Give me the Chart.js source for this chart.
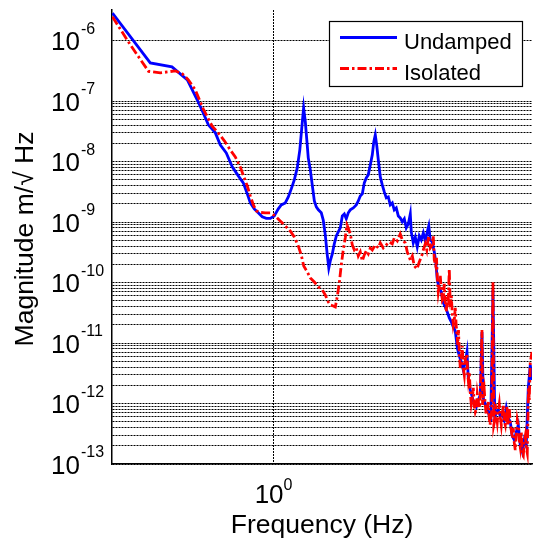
<!DOCTYPE html>
<html>
<head>
<meta charset="utf-8">
<script src="https://cdn.jsdelivr.net/npm/chart.js@4.4.0/dist/chart.umd.min.js"></script>
<style>
  html, body { margin: 0; padding: 0; background: #fff; }
  #plot { display: block; }
</style>
</head>
<body>
<canvas id="plot" width="534" height="541"></canvas>
<script>
const FONT = '"Liberation Sans", Arial, Helvetica, sans-serif';

// Frequency (Hz) and amplitude spectral density (m/sqrt(Hz)) of both configurations
const undampedFreq = [0.301, 0.399, 0.469, 0.526, 0.566, 0.592, 0.615, 0.648, 0.672, 0.703,
  0.735, 0.769, 0.798, 0.822, 0.841, 0.866, 0.892, 0.919, 0.947, 0.976,
  1.005, 1.036, 1.059, 1.091, 1.116, 1.141, 1.167, 1.193, 1.216, 1.234,
  1.251, 1.267, 1.281, 1.295, 1.315, 1.334, 1.355, 1.375, 1.396, 1.427,
  1.448, 1.470, 1.492, 1.509, 1.526, 1.549, 1.572, 1.596, 1.620, 1.644,
  1.669, 1.694, 1.719, 1.745, 1.771, 1.811, 1.852, 1.880, 1.908, 1.937,
  1.966, 1.995, 2.025, 2.056, 2.087, 2.110, 2.134, 2.158, 2.182, 2.215,
  2.248, 2.282, 2.316, 2.351, 2.386, 2.422, 2.458, 2.495, 2.533, 2.570,
  2.609, 2.649, 2.688, 2.729, 2.770, 2.790, 2.832, 2.875, 2.917, 2.962,
  3.006, 3.052, 3.097, 3.143, 3.179, 3.214, 3.263, 3.312, 3.349, 3.387,
  3.437, 3.489, 3.542, 3.595, 3.649, 3.704, 3.760, 3.816, 3.873, 3.932,
  3.990, 4.050, 4.111, 4.173, 4.226, 4.267, 4.332, 4.395, 4.462, 4.529,
  4.597, 4.666, 4.725, 4.771, 4.843, 4.916, 4.990, 5.046, 5.129, 5.199,
  5.257, 5.336, 5.416, 5.497, 5.580, 5.664, 5.748, 5.835, 5.923, 6.012,
  6.101, 6.193, 6.286, 6.381, 6.476, 6.573, 6.673, 6.772, 6.858];
const undampedMag = [2.84e-6, 4.28e-7, 3.67e-7, 2.24e-7, 1.05e-7, 6.38e-8, 4.04e-8, 2.98e-8, 1.89e-8, 1.39e-8,
  8.16e-9, 5.79e-9, 4.44e-9, 2.92e-9, 2.07e-9, 1.65e-9, 1.42e-9, 1.22e-9, 1.15e-9, 1.15e-9,
  1.26e-9, 1.65e-9, 1.92e-9, 2.07e-9, 2.60e-9, 3.53e-9, 4.97e-9, 7.85e-9, 1.56e-8, 3.60e-8,
  7.72e-8, 4.53e-8, 2.28e-8, 1.15e-8, 7.28e-9, 4.11e-9, 2.23e-9, 1.78e-9, 1.59e-9, 1.42e-9,
  1.08e-9, 6.12e-10, 2.86e-10, 1.74e-10, 2.28e-10, 2.97e-10, 4.35e-10, 5.89e-10, 6.86e-10, 7.99e-10,
  1.26e-9, 1.36e-9, 1.13e-9, 1.42e-9, 1.59e-9, 1.71e-9, 1.92e-9, 2.23e-9, 2.70e-9, 2.92e-9,
  4.44e-9, 5.37e-9, 6.02e-9, 8.80e-9, 1.29e-8, 2.11e-8, 2.76e-8, 1.82e-8, 1.07e-8, 5.57e-9,
  4.11e-9, 3.15e-9, 2.51e-9, 2.60e-9, 1.92e-9, 2.07e-9, 1.59e-9, 1.71e-9, 1.26e-9, 1.17e-9,
  1.01e-9, 1.13e-9, 7.99e-10, 9.31e-10, 1.36e-9, 6.86e-10, 4.52e-10, 5.67e-10, 3.88e-10, 5.89e-10,
  5.06e-10, 6.61e-10, 4.87e-10, 6.86e-10, 8.63e-10, 5.06e-10, 4.69e-10, 3.21e-10, 2.19e-10, 1.10e-10,
  8.14e-11, 6.99e-11, 4.60e-11, 3.95e-11, 3.26e-11, 2.60e-11, 2.23e-11, 1.84e-11, 1.58e-11, 8.28e-12,
  6.11e-12, 4.86e-12, 3.59e-12, 4.86e-12, 7.11e-12, 2.64e-12, 1.67e-12, 1.28e-12, 9.82e-13, 8.76e-13,
  1.14e-12, 1.38e-12, 1.52e-11, 1.23e-12, 9.82e-13, 8.12e-13, 6.22e-13, 5.76e-13, 7.54e-11, 5.76e-13,
  7.24e-13, 7.82e-13, 6.22e-13, 6.97e-13, 5.34e-13, 8.44e-13, 5.76e-13, 4.95e-13, 2.90e-13, 2.50e-13,
  3.38e-13, 4.42e-13, 2.06e-13, 1.58e-13, 2.50e-13, 1.99e-13, 1.81e-12, 4.34e-12, 2.45e-12];

const isolatedFreq = [0.301, 0.344, 0.394, 0.430, 0.481, 0.507, 0.530, 0.558, 0.592, 0.632,
  0.662, 0.693, 0.724, 0.752, 0.780, 0.804, 0.822, 0.841, 0.860, 0.879,
  0.906, 0.940, 0.976, 1.013, 1.051, 1.091, 1.132, 1.167, 1.202, 1.229,
  1.252, 1.286, 1.315, 1.355, 1.396, 1.438, 1.470, 1.503, 1.526, 1.560,
  1.584, 1.607, 1.632, 1.656, 1.681, 1.706, 1.728, 1.745, 1.771, 1.798,
  1.825, 1.852, 1.880, 1.908, 1.937, 1.966, 1.995, 2.025, 2.056, 2.087,
  2.134, 2.182, 2.215, 2.265, 2.316, 2.368, 2.422, 2.458, 2.514, 2.570,
  2.609, 2.668, 2.708, 2.770, 2.812, 2.853, 2.912, 2.962, 3.022, 3.052,
  3.097, 3.132, 3.174, 3.214, 3.263, 3.287, 3.312, 3.349, 3.367, 3.387,
  3.412, 3.437, 3.463, 3.489, 3.516, 3.542, 3.568, 3.595, 3.622, 3.649,
  3.677, 3.704, 3.731, 3.760, 3.787, 3.816, 3.845, 3.873, 3.903, 3.926,
  3.946, 3.967, 3.990, 4.020, 4.050, 4.080, 4.111, 4.142, 4.173, 4.226,
  4.245, 4.267, 4.299, 4.332, 4.364, 4.395, 4.429, 4.462, 4.496, 4.529,
  4.563, 4.597, 4.631, 4.666, 4.725, 4.747, 4.771, 4.807, 4.843, 4.879,
  4.916, 4.953, 4.990, 5.016, 5.046, 5.083, 5.129, 5.160, 5.199, 5.218,
  5.257, 5.296, 5.336, 5.376, 5.416, 5.457, 5.497, 5.539, 5.580, 5.621,
  5.693, 5.719, 5.748, 5.791, 5.835, 5.878, 5.923, 5.966, 6.012, 6.056,
  6.101, 6.147, 6.207, 6.239, 6.286, 6.334, 6.381, 6.429, 6.476, 6.525,
  6.573, 6.622, 6.687, 6.722, 6.772, 6.858];
const isolatedMag = [2.47e-6, 8.49e-7, 3.10e-7, 2.92e-7, 3.16e-7, 2.81e-7, 2.24e-7, 1.53e-7, 7.42e-8, 3.89e-8,
  2.98e-8, 2.20e-8, 1.56e-8, 1.19e-8, 8.16e-9, 5.37e-9, 3.96e-9, 2.70e-9, 1.92e-9, 1.53e-9,
  1.44e-9, 1.42e-9, 1.42e-9, 1.26e-9, 1.04e-9, 8.63e-10, 7.13e-10, 5.67e-10, 4.03e-10, 2.86e-10,
  1.88e-10, 1.50e-10, 1.19e-10, 1.02e-10, 8.45e-11, 7.54e-11, 6.23e-11, 4.78e-11, 4.26e-11, 4.10e-11,
  3.95e-11, 5.78e-11, 9.85e-11, 1.95e-10, 3.46e-10, 5.46e-10, 8.96e-10, 7.99e-10, 6.36e-10, 4.18e-10,
  3.46e-10, 3.73e-10, 2.75e-10, 3.21e-10, 2.28e-10, 2.86e-10, 3.33e-10, 2.97e-10, 3.73e-10, 3.46e-10,
  4.18e-10, 3.73e-10, 4.52e-10, 3.73e-10, 4.18e-10, 4.69e-10, 4.35e-10, 5.46e-10, 4.87e-10, 6.36e-10,
  5.06e-10, 4.52e-10, 3.21e-10, 2.36e-10, 2.75e-10, 1.88e-10, 1.68e-10, 2.19e-10, 2.86e-10, 3.46e-10,
  4.35e-10, 3.46e-10, 5.89e-10, 3.73e-10, 4.18e-10, 5.89e-10, 2.36e-10, 1.88e-10, 2.55e-10, 1.24e-10,
  6.99e-11, 9.12e-11, 1.29e-10, 7.83e-11, 5.15e-11, 5.56e-11, 9.48e-11, 4.60e-11, 3.26e-11, 6.00e-11,
  5.15e-11, 1.68e-10, 3.95e-11, 6.00e-11, 3.14e-11, 1.99e-11, 2.41e-11, 3.80e-11, 1.77e-11, 1.36e-11,
  9.29e-12, 1.64e-11, 7.11e-12, 3.87e-12, 5.25e-12, 8.94e-12, 3.87e-12, 2.96e-12, 5.25e-12, 6.60e-12,
  3.32e-12, 2.45e-12, 3.32e-12, 1.49e-12, 9.82e-13, 1.19e-12, 1.81e-12, 9.10e-13, 7.24e-13, 8.12e-13,
  1.44e-12, 1.10e-12, 8.44e-13, 1.28e-12, 1.64e-11, 9.46e-13, 1.28e-12, 1.67e-12, 9.46e-13, 6.46e-13,
  7.52e-13, 1.06e-12, 5.76e-13, 4.42e-13, 5.34e-13, 7.82e-13, 1.02e-10, 4.42e-13, 5.34e-13, 9.82e-13,
  6.71e-13, 4.95e-13, 7.52e-13, 9.82e-13, 5.99e-13, 4.42e-13, 6.46e-13, 9.46e-13, 5.14e-13, 4.42e-13,
  9.10e-13, 4.42e-13, 5.55e-13, 8.44e-13, 4.59e-13, 3.65e-13, 2.69e-13, 3.94e-13, 2.23e-13, 1.70e-13,
  3.13e-13, 5.34e-13, 4.09e-13, 2.50e-13, 1.91e-13, 3.38e-13, 1.46e-13, 1.36e-13, 2.31e-13, 2.90e-13,
  1.84e-13, 1.52e-13, 1.88e-12, 1.14e-12, 4.68e-12, 7.11e-12];

// axis limits and ticks (powers of ten)
const xRange = [0.3, 6.86];
const yRange = [1e-13, 3.2e-6];
const xTickExponents = [0];
const yTickExponents = [-13, -12, -11, -10, -9, -8, -7, -6];
const yMinorDecades = [-13, -12, -11, -10, -9, -8];

const seriesNames = ['Undamped', 'Isolated'];
const seriesColors = ['#0000ff', '#ff0000'];
const dashDot = [9, 3, 2.5, 3];

function toPoints(xs, ys) {
  return xs.map((x, i) => ({ x: x, y: ys[i] }));
}

// decade labels like 10^-6, drawn with a raised exponent
const decadeLabels = {
  id: 'decadeLabels',
  afterDraw(chart) {
    const ctx = chart.ctx;
    const area = chart.chartArea;
    const xs = chart.scales.x, ys = chart.scales.y;
    ctx.save();
    ctx.fillStyle = '#000';
    ctx.textBaseline = 'alphabetic';
    yTickExponents.forEach(e => {
      const py = ys.getPixelForValue(Math.pow(10, e));
      ctx.font = '26px ' + FONT;
      ctx.textAlign = 'right';
      ctx.fillText('10', 80, py + 9.5);
      ctx.font = '16px ' + FONT;
      ctx.textAlign = 'left';
      ctx.fillText(String(e), 81, py - 7);
    });
    xTickExponents.forEach(e => {
      const px = xs.getPixelForValue(Math.pow(10, e));
      ctx.font = '26px ' + FONT;
      ctx.textAlign = 'right';
      ctx.fillText('10', px + 10, 503);
      ctx.font = '16px ' + FONT;
      ctx.textAlign = 'left';
      ctx.fillText(String(e), px + 10, 490);
    });
    // axis titles
    ctx.font = '26.5px ' + FONT;
    ctx.textAlign = 'center';
    ctx.fillText('Frequency (Hz)', (area.left + area.right) / 2, 533);
    ctx.translate(33, (area.top + area.bottom) / 2 + 2);
    ctx.rotate(-Math.PI / 2);
    ctx.fillText('Magnitude m/\u221A Hz', 0, 0);
    ctx.restore();
  }
};

// boxed legend in the upper right corner
const boxLegend = {
  id: 'boxLegend',
  afterDatasetsDraw(chart) {
    const ctx = chart.ctx;
    ctx.save();
    ctx.fillStyle = '#fff';
    ctx.fillRect(329, 21, 194, 66);
    ctx.strokeStyle = '#000';
    ctx.lineWidth = 1.2;
    ctx.strokeRect(329.5, 21.5, 193, 65);
    seriesNames.forEach((name, i) => {
      const y = 37.5 + i * 31;
      ctx.strokeStyle = seriesColors[i];
      ctx.lineWidth = 2.8;
      ctx.setLineDash(i === 1 ? dashDot : []);
      ctx.beginPath();
      ctx.moveTo(340, y);
      ctx.lineTo(397, y);
      ctx.stroke();
      ctx.setLineDash([]);
      ctx.fillStyle = '#000';
      ctx.font = '22px ' + FONT;
      ctx.textAlign = 'left';
      ctx.textBaseline = 'alphabetic';
      ctx.fillText(name, 404, y + 11);
    });
    ctx.restore();
  }
};

new Chart(document.getElementById('plot'), {
  type: 'line',
  data: {
    datasets: [{
      label: seriesNames[0],
      data: toPoints(undampedFreq, undampedMag),
      borderColor: seriesColors[0],
      borderWidth: 2.8,
      order: 1
    }, {
      label: seriesNames[1],
      data: toPoints(isolatedFreq, isolatedMag),
      borderColor: seriesColors[1],
      borderWidth: 2.8,
      borderDash: dashDot,
      order: 0
    }]
  },
  options: {
    responsive: false,
    animation: false,
    devicePixelRatio: 1,
    layout: { padding: { top: 10, right: 2, left: 0, bottom: 0 } },
    elements: {
      point: { radius: 0 },
      line: { tension: 0, fill: false }
    },
    plugins: {
      legend: { display: false },
      tooltip: { enabled: false }
    },
    scales: {
      x: {
        type: 'logarithmic',
        min: xRange[0],
        max: xRange[1],
        ticks: { display: false },
        grid: { color: '#000', lineWidth: 1, drawTicks: false },
        border: { display: true, color: '#000', width: 1.5, dash: [2, 1] },
        afterBuildTicks: scale => {
          scale.ticks = xTickExponents.map(e => ({ value: Math.pow(10, e) }));
        },
        afterFit: scale => { scale.height = 77; }
      },
      y: {
        type: 'logarithmic',
        min: yRange[0],
        max: yRange[1],
        ticks: { display: false },
        grid: { color: '#000', lineWidth: 1, drawTicks: false },
        border: { display: true, color: '#000', width: 1.5, dash: [2, 1] },
        afterBuildTicks: scale => {
          const ticks = yTickExponents.map(e => ({ value: Math.pow(10, e) }));
          yMinorDecades.forEach(e => {
            for (let m = 2; m <= 9; m++) ticks.push({ value: m * Math.pow(10, e) });
          });
          scale.ticks = ticks.sort((a, b) => a.value - b.value);
        },
        afterFit: scale => { scale.width = 112; }
      }
    }
  },
  plugins: [boxLegend, decadeLabels]
});
</script>
</body>
</html>
